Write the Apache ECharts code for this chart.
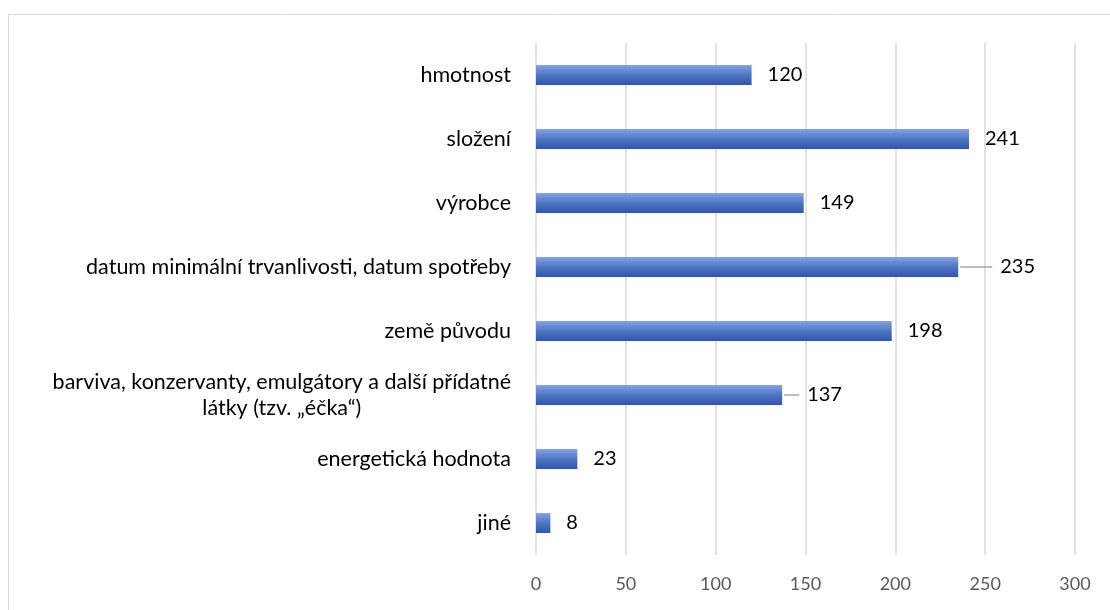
<!DOCTYPE html>
<html>
<head>
<meta charset="utf-8">
<script src="https://cdn.jsdelivr.net/npm/echarts@6/dist/echarts.min.js"></script>
<style>
  html, body { margin: 0; padding: 0; background: #fff; }
  #chart { width: 1110px; height: 610px; }
</style>
</head>
<body>
<div id="chart"></div>
<script>
// Categories listed top to bottom
const categories = [
  'hmotnost',
  'složení',
  'výrobce',
  'datum minimální trvanlivosti, datum spotřeby',
  'země původu',
  'barviva, konzervanty, emulgátory a další přídatné\nlátky (tzv. „éčka“)',
  'energetická hodnota',
  'jiné'
];
const values = [120, 241, 149, 235, 198, 137, 23, 8];
// Extra gap between bar end and label (labels pulled out with a leader line)
const labelShift = [0, 0, 0, 26, 0, 9, 0, 0];
const xTicks = { min: 0, max: 300, interval: 50 };

const FONT = 'Lato, "Open Sans", sans-serif';

const chart = echarts.init(document.getElementById('chart'));

const barColor = new echarts.graphic.LinearGradient(0, 0, 0, 1, [
  { offset: 0, color: '#86a5dc' },
  { offset: 0.5, color: '#4c74c6' },
  { offset: 1, color: '#34589d' }
]);

chart.setOption({
  animation: false,
  backgroundColor: '#fff',
  graphic: [{
    type: 'rect',
    shape: { x: 8.5, y: 14.5, width: 1200, height: 700 },
    style: { fill: 'none', stroke: '#d9d9d9', lineWidth: 1 },
    silent: true,
    z: -1
  }],
  grid: { left: 536, right: 35, top: 43, bottom: 55, containLabel: false },
  xAxis: {
    type: 'value',
    min: xTicks.min,
    max: xTicks.max,
    interval: xTicks.interval,
    axisLine: { show: false },
    axisTick: { show: false },
    splitLine: { show: true, lineStyle: { color: '#d9d9d9', width: 1.5 } },
    axisLabel: { color: '#595959', fontSize: 18, fontFamily: FONT, margin: 20 }
  },
  yAxis: {
    type: 'category',
    inverse: true,
    data: categories,
    axisLine: { show: false },
    axisTick: { show: false },
    axisLabel: {
      margin: 25,
      color: '#000',
      fontSize: 21.5,
      fontFamily: FONT,
      lineHeight: 26,
      formatter: function (v) {
        return v.split('\n').map(function (s) { return '{c|' + s + '}'; }).join('\n');
      },
      rich: { c: { align: 'center', fontSize: 21.5, fontFamily: FONT, color: '#000', lineHeight: 26 } }
    }
  },
  series: [{
    type: 'bar',
    barWidth: 20,
    data: values.map(function (v, i) {
      const item = { value: v };
      if (labelShift[i] > 0) {
        item.label = { distance: 16 + labelShift[i] };
      }
      return item;
    }),
    itemStyle: { color: barColor },
    label: {
      show: true,
      position: 'right',
      distance: 16,
      color: '#000',
      fontSize: 20,
      fontFamily: FONT
    }
  }, {
    // leader lines from bar end toward the shifted labels
    type: 'custom',
    silent: true,
    data: values.map(function (v, i) { return [v, i, labelShift[i]]; }),
    renderItem: function (params, api) {
      const shift = api.value(2);
      if (!shift) return null;
      const p = api.coord([api.value(0), api.value(1)]);
      return {
        type: 'line',
        shape: { x1: p[0] + 2, y1: p[1], x2: p[0] + shift + 8, y2: p[1] },
        style: { stroke: '#a6a6a6', lineWidth: 1.5 }
      };
    },
    encode: { x: 0, y: 1 }
  }]
});
</script>
</body>
</html>
